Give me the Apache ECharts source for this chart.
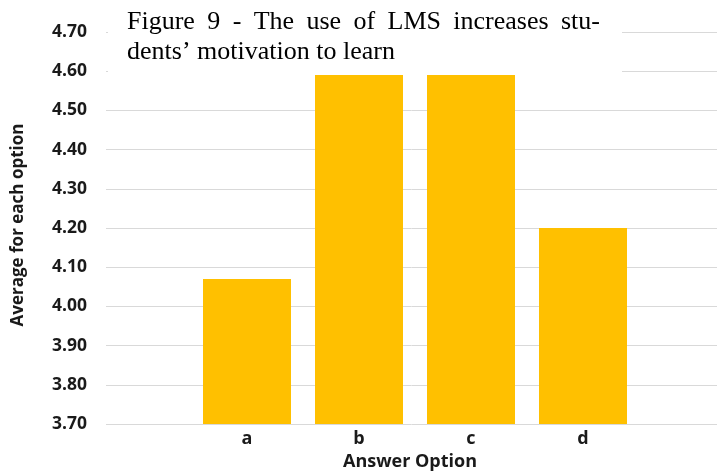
<!DOCTYPE html>
<html><head><meta charset="utf-8">
<script src="https://cdn.jsdelivr.net/npm/echarts@6/dist/echarts.min.js"></script>
<style>html,body{margin:0;padding:0;background:#fff}#c{width:717px;height:474px}</style>
</head><body><div id="c"></div>
<script>
const categories = ['a', 'b', 'c', 'd'];
const values = [4.07, 4.59, 4.59, 4.20];
const yMin = 3.7, yMax = 4.7, yStep = 0.1;
const titleLine1 = 'Figure 9 - The use of LMS increases stu-';
const titleLine2 = 'dents\u2019 motivation to learn';
const xName = 'Answer Option';
const yName = 'Average for each option';

const serif = '"Liberation Serif","Times New Roman",serif';
const sans = '"Open Sans","Noto Sans",sans-serif';
const titleSize = 26;
const ink = '#1a1a1a';

// justify first title line between x0 and x1
const cv = document.createElement('canvas').getContext('2d');
cv.font = titleSize + 'px ' + serif;
const words = titleLine1.split(' ');
const x0 = 127, x1 = 600;
const totalW = words.reduce((s, w) => s + cv.measureText(w).width, 0);
const gap = (x1 - x0 - totalW) / (words.length - 1);
const titleEls = [];
let cx = x0;
words.forEach(w => {
  titleEls.push({type: 'text', left: cx, top: 9, z: 20,
    style: {text: w, font: titleSize + 'px ' + serif, fill: '#000'}});
  cx += cv.measureText(w).width + gap;
});
titleEls.push({type: 'text', left: x0, top: 39, z: 20,
  style: {text: titleLine2, font: titleSize + 'px ' + serif, fill: '#000'}});

const chart = echarts.init(document.getElementById('c'));
chart.setOption({
  animation: false,
  grid: [
    {left: 106, right: 0, top: 32, bottom: 50},
    {left: 191, width: 448, top: 32, bottom: 50}
  ],
  xAxis: [
    {gridIndex: 0, type: 'category', data: [''], show: false},
    {gridIndex: 1, type: 'category', data: categories,
      axisLine: {show: false}, axisTick: {show: false},
      axisLabel: {margin: 6, color: ink, fontFamily: sans, fontWeight: 'bold', fontSize: 18}}
  ],
  yAxis: [
    {gridIndex: 0, type: 'value', min: yMin, max: yMax, interval: yStep,
      axisLine: {show: false}, axisTick: {show: false},
      axisLabel: {margin: 19, color: ink, fontFamily: sans, fontWeight: 'bold', fontSize: 17.5,
        formatter: v => v.toFixed(2)},
      splitLine: {lineStyle: {color: '#d9d9d9', width: 1}}},
    {gridIndex: 1, type: 'value', min: yMin, max: yMax, interval: yStep, show: false,
      splitLine: {show: false}}
  ],
  series: [{
    type: 'bar', xAxisIndex: 1, yAxisIndex: 1, data: values,
    barWidth: 88, itemStyle: {color: '#FFC000'}, z: 5
  }],
  graphic: [
    {type: 'rect', shape: {x: 108, y: 0, width: 514, height: 74}, style: {fill: '#fff'}, z: 10},
    ...titleEls,
    {type: 'text', x: 410, y: 462, z: 20,
      style: {text: xName, font: 'bold 18px ' + sans, fill: ink, textAlign: 'center', textVerticalAlign: 'middle'}},
    {type: 'text', rotation: Math.PI / 2, x: 18, y: 225, z: 20,
      style: {text: yName, font: 'bold 17px ' + sans, fill: ink, textAlign: 'center', textVerticalAlign: 'middle'}}
  ]
});
</script></body></html>
